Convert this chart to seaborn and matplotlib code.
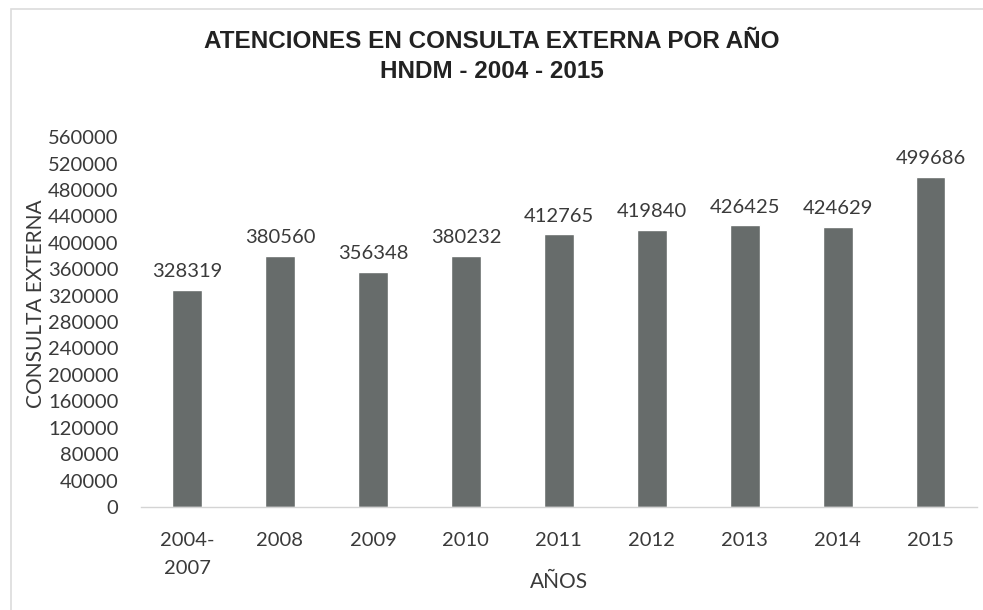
import matplotlib
matplotlib.use("Agg")
import matplotlib.pyplot as plt
import seaborn as sns
import pandas as pd
from matplotlib.patches import Rectangle

# Outpatient visits per year
years = ["2004-\n2007", "2008", "2009", "2010", "2011", "2012", "2013", "2014", "2015"]
visits = [328319, 380560, 356348, 380232, 412765, 419840, 426425, 424629, 499686]
y_ticks = list(range(0, 560001, 40000))

title = "ATENCIONES EN CONSULTA EXTERNA POR AÑO\nHNDM - 2004 - 2015"
x_label = "AÑOS"
y_label = "CONSULTA EXTERNA"

sns.set_theme(style="white")
plt.rcParams["font.family"] = ["Lato", "DejaVu Sans"]

df = pd.DataFrame({"year": years, "visits": visits})

fig = plt.figure(figsize=(9.83, 6.1), dpi=100)
ax = fig.add_axes([0.143, 0.169, 0.851, 0.606])

bar_color = "#676c6b"
sns.barplot(data=df, x="year", y="visits", color=bar_color, width=0.32,
            saturation=1, ax=ax)

text_color = "#3a3a3a"
ax.set_ylim(0, 560000)
ax.set_xlim(-0.5, len(years) - 0.5)
ax.set_yticks(y_ticks)
ax.set_yticklabels([str(t) for t in y_ticks])
ax.tick_params(axis="y", length=0, pad=16, labelsize=14.5, labelcolor=text_color)
ax.tick_params(axis="x", length=0, pad=18, labelsize=14.5, labelcolor=text_color)
for lbl in ax.get_xticklabels():
    lbl.set_linespacing(1.8)

for side in ["top", "right", "left"]:
    ax.spines[side].set_visible(False)
ax.spines["bottom"].set_color("#d4d4d4")
ax.spines["bottom"].set_linewidth(1.0)

# Value labels above each bar
for i, v in enumerate(visits):
    ax.annotate(str(v), xy=(i, v), xytext=(0, 7), textcoords="offset points",
                ha="center", va="bottom", fontsize=14.5, color=text_color)

ax.set_xlabel(x_label, fontsize=15, color=text_color)
ax.set_ylabel(y_label, fontsize=15, color=text_color)
ax.yaxis.set_label_coords(-0.113, 0.549)
ax.xaxis.set_label_coords(0.5, -0.176)

fig.text(0.5, 0.907, title, ha="center", va="center", fontsize=17.5,
         fontweight="bold", color="#222222", linespacing=1.36,
         family=["Liberation Sans Narrow", "Liberation Sans", "DejaVu Sans"])

# Light chart frame (top and left edges inside the canvas)
fig.patches.append(Rectangle((0.011, -0.2), 1.2, 1.185, transform=fig.transFigure,
                             fill=False, edgecolor="#dcdcdc", linewidth=1.2))

fig.savefig("out.png", dpi=100)
